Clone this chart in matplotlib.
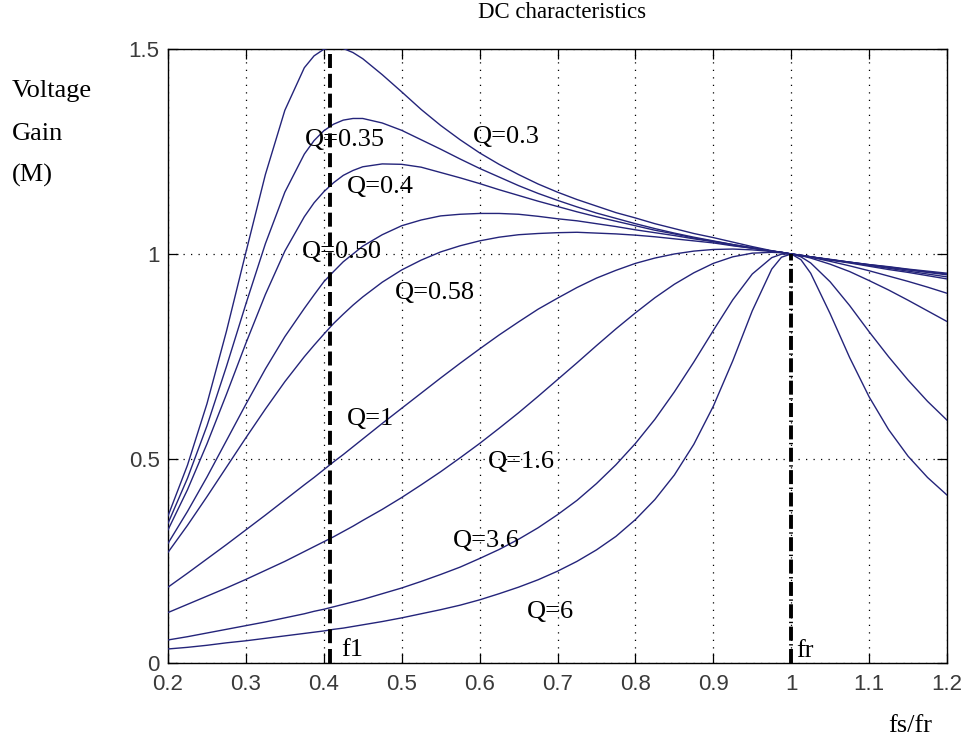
import matplotlib
matplotlib.use("Agg")
import matplotlib.pyplot as plt

# ---------------- data ----------------
fs_fr = [0.2, 0.225, 0.25, 0.275, 0.3, 0.325, 0.35, 0.375, 0.3875, 0.4,
         0.4125, 0.425, 0.4375, 0.45, 0.475, 0.5, 0.525, 0.55, 0.575, 0.6,
         0.625, 0.65, 0.675, 0.7, 0.725, 0.75, 0.775, 0.8, 0.825, 0.85,
         0.875, 0.9, 0.925, 0.95, 0.975, 0.9875, 1.0, 1.0125, 1.025, 1.05,
         1.075, 1.1, 1.125, 1.15, 1.175, 1.2]

gain_q030 = [0.360, 0.484, 0.634, 0.811, 1.004, 1.194, 1.351, 1.455, 1.484, 1.500,
             1.506, 1.502, 1.492, 1.477, 1.438, 1.396, 1.353, 1.314, 1.279, 1.247,
             1.219, 1.194, 1.171, 1.151, 1.133, 1.117, 1.101, 1.088, 1.074, 1.062,
             1.050, 1.040, 1.029, 1.018, 1.008, 1.004, 1.000, 0.997, 0.993, 0.987,
             0.980, 0.974, 0.969, 0.963, 0.958, 0.953]
gain_q035 = [0.342, 0.452, 0.580, 0.725, 0.878, 1.025, 1.151, 1.244, 1.277, 1.301,
             1.317, 1.327, 1.331, 1.331, 1.320, 1.302, 1.279, 1.256, 1.232, 1.209,
             1.188, 1.167, 1.148, 1.131, 1.115, 1.100, 1.087, 1.074, 1.062, 1.051,
             1.041, 1.032, 1.023, 1.015, 1.007, 1.004, 1.000, 0.997, 0.993, 0.986,
             0.980, 0.974, 0.968, 0.962, 0.956, 0.951]
gain_q040 = [0.326, 0.424, 0.536, 0.657, 0.782, 0.901, 1.007, 1.091, 1.125, 1.152,
             1.174, 1.192, 1.204, 1.213, 1.220, 1.219, 1.212, 1.199, 1.186, 1.172,
             1.157, 1.143, 1.129, 1.116, 1.103, 1.091, 1.080, 1.069, 1.058, 1.049,
             1.039, 1.031, 1.023, 1.015, 1.007, 1.004, 1.000, 0.997, 0.993, 0.986,
             0.980, 0.973, 0.967, 0.961, 0.955, 0.949]
gain_q050 = [0.293, 0.371, 0.455, 0.544, 0.633, 0.719, 0.798, 0.867, 0.900, 0.932,
             0.957, 0.981, 1.000, 1.019, 1.047, 1.069, 1.083, 1.093, 1.097, 1.099,
             1.099, 1.097, 1.092, 1.086, 1.081, 1.074, 1.067, 1.059, 1.052, 1.045,
             1.037, 1.030, 1.021, 1.014, 1.007, 1.004, 1.000, 0.996, 0.993, 0.986,
             0.979, 0.972, 0.965, 0.958, 0.951, 0.944]
gain_q058 = [0.271, 0.337, 0.407, 0.479, 0.551, 0.621, 0.688, 0.749, 0.777, 0.804,
             0.830, 0.853, 0.875, 0.895, 0.931, 0.961, 0.985, 1.005, 1.020, 1.032,
             1.041, 1.047, 1.050, 1.052, 1.053, 1.051, 1.049, 1.046, 1.042, 1.037,
             1.032, 1.027, 1.020, 1.014, 1.007, 1.004, 1.000, 0.996, 0.993, 0.985,
             0.978, 0.970, 0.962, 0.955, 0.947, 0.939]
gain_q1 = [0.186, 0.220, 0.255, 0.290, 0.326, 0.362, 0.399, 0.436, 0.454, 0.473,
           0.492, 0.510, 0.529, 0.548, 0.586, 0.623, 0.660, 0.697, 0.733, 0.768,
           0.802, 0.834, 0.865, 0.892, 0.918, 0.941, 0.960, 0.977, 0.990, 1.000,
           1.007, 1.011, 1.012, 1.010, 1.006, 1.003, 1.000, 0.996, 0.992, 0.982,
           0.971, 0.959, 0.946, 0.933, 0.919, 0.904]
gain_q16 = [0.124, 0.144, 0.164, 0.184, 0.205, 0.227, 0.249, 0.273, 0.285, 0.297,
            0.309, 0.322, 0.335, 0.349, 0.376, 0.405, 0.436, 0.468, 0.502, 0.537,
            0.574, 0.612, 0.652, 0.693, 0.734, 0.776, 0.817, 0.856, 0.893, 0.926,
            0.954, 0.977, 0.993, 1.002, 1.004, 1.003, 1.000, 0.996, 0.990, 0.975,
            0.957, 0.935, 0.912, 0.887, 0.861, 0.835]
gain_q36 = [0.057, 0.065, 0.074, 0.083, 0.092, 0.101, 0.111, 0.121, 0.127, 0.132,
            0.138, 0.144, 0.150, 0.156, 0.170, 0.184, 0.200, 0.217, 0.235, 0.256,
            0.278, 0.303, 0.331, 0.363, 0.398, 0.439, 0.485, 0.537, 0.596, 0.663,
            0.736, 0.813, 0.888, 0.951, 0.991, 0.9995, 1.000, 0.993, 0.978, 0.932,
            0.874, 0.810, 0.749, 0.692, 0.640, 0.594]
gain_q6 = [0.035, 0.039, 0.044, 0.050, 0.055, 0.061, 0.067, 0.073, 0.076, 0.079,
           0.083, 0.086, 0.090, 0.094, 0.102, 0.111, 0.121, 0.131, 0.142, 0.155,
           0.170, 0.186, 0.204, 0.225, 0.249, 0.277, 0.310, 0.351, 0.400, 0.460,
           0.535, 0.628, 0.739, 0.861, 0.963, 0.992, 1.000, 0.986, 0.953, 0.854,
           0.747, 0.651, 0.571, 0.506, 0.454, 0.411]

series = [gain_q030, gain_q035, gain_q040, gain_q050, gain_q058, gain_q1, gain_q16, gain_q36, gain_q6]

q_labels = ["Q=0.35", "Q=0.3", "Q=0.4", "Q=0.50", "Q=0.58", "Q=1", "Q=1.6", "Q=3.6", "Q=6"]
q_label_x = [0.376, 0.5915, 0.430, 0.372, 0.491, 0.430, 0.611, 0.566, 0.661]
q_label_y = [1.263, 1.270, 1.150, 0.989, 0.889, 0.582, 0.476, 0.285, 0.110]

x_ticks = [0.2, 0.3, 0.4, 0.5, 0.6, 0.7, 0.8, 0.9, 1.0, 1.1, 1.2]
x_tick_labels = ["0.2", "0.3", "0.4", "0.5", "0.6", "0.7", "0.8", "0.9", "1", "1.1", "1.2"]
y_ticks = [0, 0.5, 1.0, 1.5]
y_tick_labels = ["0", "0.5", "1", "1.5"]

f1_pos = 0.408
fr_pos = 1.0

# ---------------- figure ----------------
W, H = 964, 741
fig = plt.figure(figsize=(W / 100, H / 100), dpi=100)
ax = fig.add_axes([168 / W, (H - 663.3) / H, (947 - 168) / W, (663.3 - 49.3) / H])

serif = "Liberation Serif"
line_color = "#24247a"

for g in series:
    ax.plot(fs_fr, g, color=line_color, lw=1.0, zorder=3)

ax.plot([f1_pos, f1_pos], [0, 1.5], color="k", lw=2.8, dashes=(3.6, 1.5),
        solid_capstyle="butt", dash_capstyle="butt", zorder=4)
ax.plot([fr_pos, fr_pos], [0, 1.0], color="k", lw=2.8, dashes=(3.6, 0.9, 0.35, 0.9),
        solid_capstyle="butt", dash_capstyle="butt", zorder=4)

ax.set_xlim(0.2, 1.2)
ax.set_ylim(0, 1.5)
ax.set_xticks(x_ticks)
ax.set_xticklabels(x_tick_labels)
ax.set_yticks(y_ticks)
ax.set_yticklabels(y_tick_labels)

ax.grid(True, color="k", linestyle=(0, (1, 5)), linewidth=0.9)
ax.set_axisbelow(True)
ax.tick_params(direction="in", top=True, right=True, length=7, width=0.9,
               labelsize=16, labelcolor="#3a3a3a", color="k")
ax.tick_params(axis="x", pad=7.5)
ax.tick_params(axis="y", pad=6)
for lab in ax.get_xticklabels() + ax.get_yticklabels():
    lab.set_fontfamily("Liberation Sans")
for s in ax.spines.values():
    s.set_linewidth(1.0)
    s.set_color("k")

for t, x, y in zip(q_labels, q_label_x, q_label_y):
    ax.text(x, y, t, fontsize=19, family=serif, color="k", ha="left", va="baseline", zorder=5)

ax.text(0.423, 0.018, "f1", fontsize=19, family=serif, ha="left", va="baseline", zorder=5)
ax.text(1.007, 0.016, "fr", fontsize=19, family=serif, ha="left", va="baseline", zorder=5)

def fx(px):
    return px / W

def fy(py):
    return 1 - py / H

fig.text(fx(562), fy(13), "DC characteristics", fontsize=16.5, family=serif,
         ha="center", va="center")
fig.text(fx(12), fy(96.7), "Voltage", fontsize=19, family=serif, ha="left", va="baseline")
fig.text(fx(12), fy(140), "Gain", fontsize=19, family=serif, ha="left", va="baseline")
fig.text(fx(12), fy(182), "(M)", fontsize=19, family=serif, ha="left", va="baseline")
fig.text(fx(888), fy(732), "fs/fr", fontsize=19, family=serif, ha="left", va="baseline")

fig.savefig("out.png", dpi=100)
